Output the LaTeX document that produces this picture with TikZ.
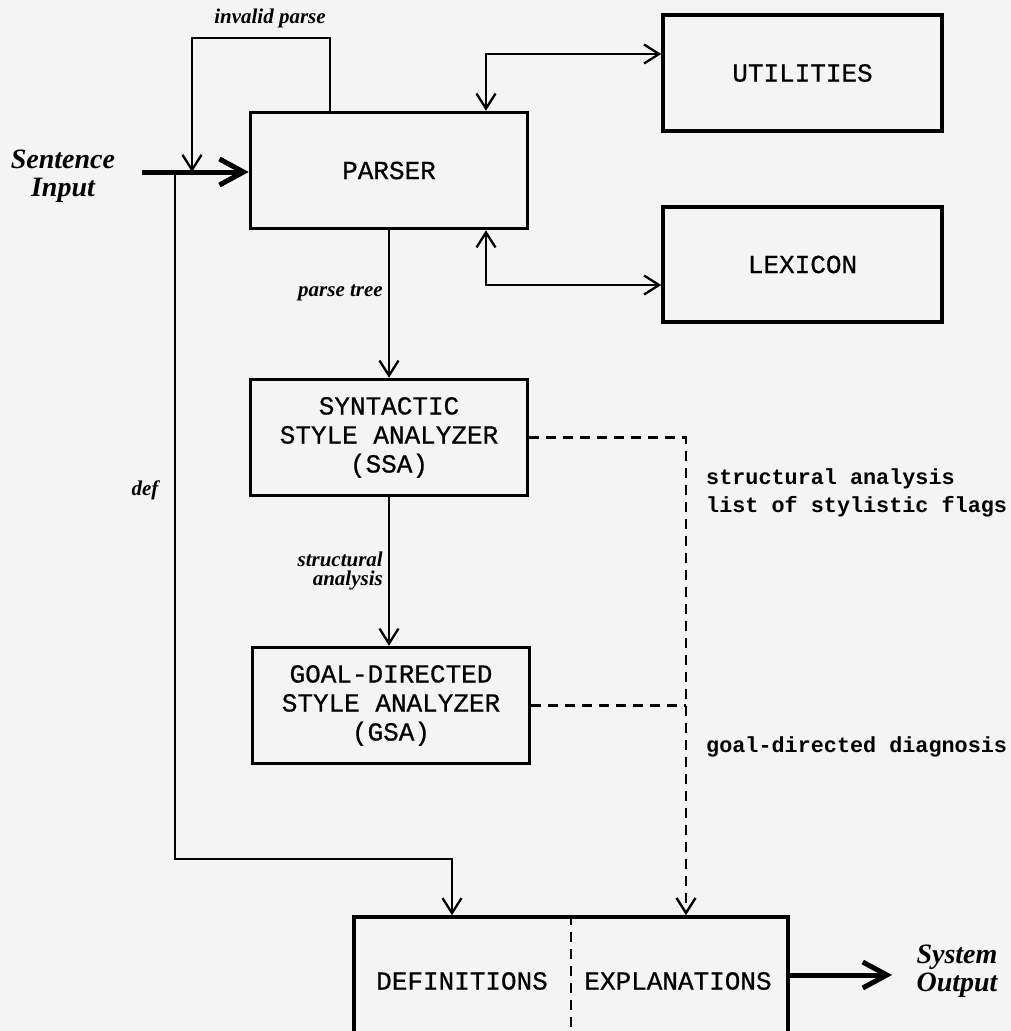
\documentclass[tikz,border=0pt]{standalone}
\usepackage{fontspec}
\setmainfont{Liberation Serif}
\setmonofont{Liberation Mono}
\newfontfamily\blockfont{Liberation Mono}[FakeBold=0.7]
\usetikzlibrary{arrows.meta}
\definecolor{paper}{HTML}{F4F4F4}
\begin{document}
\begin{tikzpicture}[x=1pt,y=-1pt,
  box/.style={draw, line width=3.6pt, minimum width=277pt, minimum height=116pt,
    align=center, inner sep=0pt, font=\fontsize{26}{29}\selectfont\blockfont},
  boxtext/.style={inner sep=0pt, font=\fontsize{26}{29}\selectfont\blockfont},
  flow/.style={line width=2.3pt, -{Straight Barb[length=15pt,width=19pt]}},
  both/.style={line width=2.3pt,
    {Straight Barb[length=15pt,width=19pt]}-{Straight Barb[length=15pt,width=19pt]}},
  dashlink/.style={line width=2.4pt, dash pattern=on 10pt off 7pt},
  heavy/.style={line width=5pt, -{Straight Barb[length=24pt,width=26pt]}},
  lbl/.style={font=\fontsize{21}{19.5}\selectfont\bfseries\itshape, inner sep=0pt, align=right},
  big/.style={font=\fontsize{28}{28}\selectfont\bfseries\itshape, inner sep=0pt},
  note/.style={font=\fontsize{21.8}{22}\selectfont\ttfamily\bfseries, inner sep=0pt, anchor=west},
]
% page
\fill[paper] (0,0) rectangle (1011,1031);
\clip (0,0) rectangle (1011,1031);

% blocks
\node[box] (parser) at (389,170.5) {PARSER};
\node[box, minimum width=279pt] (util) at (802.5,73) {UTILITIES};
\node[box, minimum width=279pt, minimum height=115pt] (lex) at (802.5,264.5) {LEXICON};
\node[box] (ssa) at (389,437.5) {SYNTACTIC\\STYLE ANALYZER\\(SSA)};
\node[box] (gsa) at (391,705.5) {GOAL-DIRECTED\\STYLE ANALYZER\\(GSA)};
\node[box, minimum width=434pt] (out) at (571,975) {};
\node[boxtext] (defs) at (462,981) {DEFINITIONS};
\node[boxtext] (expl) at (678,981) {EXPLANATIONS};
\draw[dashlink, line width=2.6pt] (out.north) -- (out.south);

% input and output
\node[big, align=center] (sin) at (63,176) {Sentence\\Input};
\coordinate (inp) at (142,172);
\draw[heavy] (inp) -- (inp -| parser.west);
\coordinate (sysend) at (892,975);
\draw[heavy] (out.east) -- (sysend);
\node[big, align=left] (sout) at (957,971) {System\\Output};

% invalid parse loop
\coordinate (ipr) at (330,38);
\coordinate (ipl) at (192,38);
\draw[flow] (parser.north -| ipr) -- (ipr) -- (ipl) -- (ipl |- inp);
\node[lbl] (iplbl) at (270,18) {invalid parse};

% utilities and lexicon links
\coordinate (ub) at (486,54);
\draw[both] (parser.north -| ub) -- (ub) -- (ub -| util.west);
\coordinate (lb) at (486,285);
\draw[both] (parser.south -| lb) -- (lb) -- (lb -| lex.west);

% main pipeline
\draw[flow] (ssa.north |- parser.south) -- (ssa.north);
\node[lbl, anchor=east] (ptlbl) at (383,293) {parse tree};
\draw[flow] (ssa.south) -- (ssa.south |- gsa.north);
\node[lbl, anchor=east] (salbl) at (383,571) {structural\\analysis};

% definitions branch
\coordinate (dtop) at (175,172);
\coordinate (dbend) at (175,859);
\coordinate (dend) at (452,859);
\draw[flow] (dtop) -- (dbend) -- (dend) -- (dend |- out.north);
\node[lbl] (deflbl) at (145,490) {def};

% analysis results
\coordinate (dv) at (686,438);
\draw[dashlink, -{Straight Barb[length=15pt,width=19pt]}]
  (ssa.east) -- (ssa.east -| dv) -- (dv |- out.north);
\draw[dashlink] (gsa.east) -- (gsa.east -| dv);
\node[note] (n1) at (706,479) {structural analysis};
\node[note] (n2) at (706,507) {list of stylistic flags};
\node[note] (n3) at (706,747) {goal-directed diagnosis};
\end{tikzpicture}
\end{document}
